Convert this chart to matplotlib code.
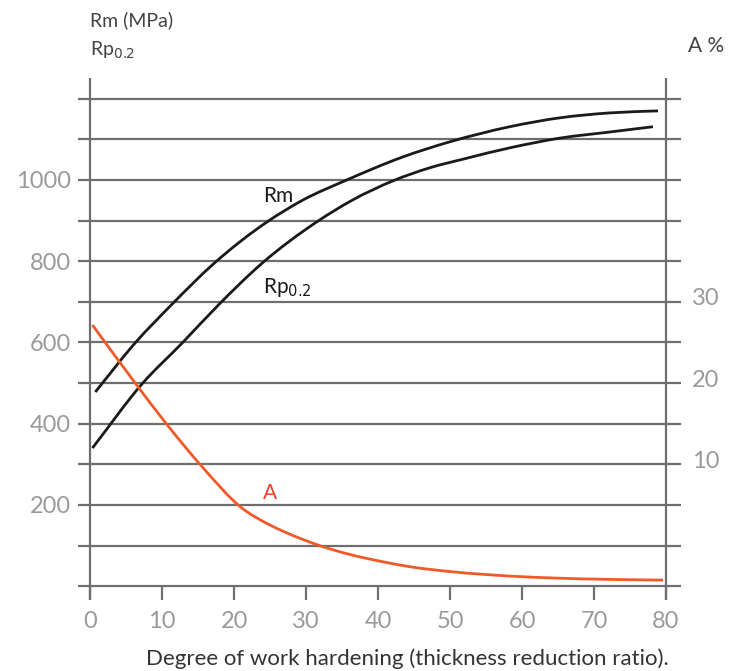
import matplotlib
matplotlib.use("Agg")
import matplotlib.pyplot as plt
import matplotlib.transforms as mtransforms
from matplotlib.path import Path
from matplotlib.patches import PathPatch

plt.rcParams["font.family"] = ["Lato", "DejaVu Sans"]

# ── data ──────────────────────────────────────────────────────
RM_X = [0.7, 6.25, 11.25, 17.1, 24.6, 29.6, 35.4, 43.5, 50.0, 58.3, 65.3, 72.2, 78.9]
RM_Y = [478, 599, 692, 793, 897, 951, 998, 1057, 1094, 1131, 1153, 1165, 1170]

RP_X = [0.3, 7.3, 12.8, 17.8, 23.75, 31.5, 36.5, 42.1, 47.2, 52.0, 58.3, 65.3, 72.2, 78.2]
RP_Y = [340, 500, 599, 692, 793, 897, 951, 998, 1030, 1052, 1079, 1103, 1118, 1131]

A_X = [0.3, 6.25, 10.7, 15.6, 21.1, 24.6, 27.1, 31.7, 36.1, 40.7, 44.4, 50.0, 59.3, 68.5, 79.6]
A_Y = [27.15, 20.0, 14.85, 9.65, 4.6, 2.7, 1.65, 0.05, -1.1, -2.0, -2.6, -3.2, -3.8, -4.1, -4.25]

X_TICKS = [0, 10, 20, 30, 40, 50, 60, 70, 80]
LEFT_TICKS = [200, 400, 600, 800, 1000]
RIGHT_TICKS = [10, 20, 30]
GRID_MPA = list(range(0, 1300, 100))

GRID_C = "#6e6e6e"
TICK_C = "#9a9a9a"
TEXT_C = "#333333"
CURVE_C = "#1a1a1a"
A_C = "#f05a28"

YLIM = (-34, 1251)
XLIM = (-1.7, 82.1)


def mpa_to_pct(v):
    # right axis: 10 % per 200 MPa, 0 % at the 100 MPa line
    return (v - 100) / 20.0


def smooth_path(xs, ys):
    # Hermite segments through the read points (tangents = weighted neighbour slopes)
    n = len(xs)
    sl = [(ys[i + 1] - ys[i]) / (xs[i + 1] - xs[i]) for i in range(n - 1)]
    m = [sl[0]]
    for i in range(1, n - 1):
        h0, h1 = xs[i] - xs[i - 1], xs[i + 1] - xs[i]
        m.append((sl[i - 1] * h1 + sl[i] * h0) / (h0 + h1))
    m.append(sl[-1])
    verts = [(xs[0], ys[0])]
    codes = [Path.MOVETO]
    for i in range(n - 1):
        h = xs[i + 1] - xs[i]
        verts += [(xs[i] + h / 3, ys[i] + m[i] * h / 3),
                  (xs[i + 1] - h / 3, ys[i + 1] - m[i + 1] * h / 3),
                  (xs[i + 1], ys[i + 1])]
        codes += [Path.CURVE4] * 3
    return Path(verts, codes)


def draw_curve(axis, xs, ys, color):
    patch = PathPatch(smooth_path(xs, ys), facecolor="none", edgecolor=color,
                      lw=2.0, capstyle="butt", joinstyle="round", zorder=3)
    axis.add_patch(patch)


fig = plt.figure(figsize=(7.43, 6.71), dpi=100)
ax = fig.add_axes([0.105, 0.1058, 0.8116, 0.778])
ax.set_xlim(*XLIM)
ax.set_ylim(*YLIM)
for s in ax.spines.values():
    s.set_visible(False)

# grid + frame
for g in GRID_MPA:
    ax.axhline(g, color=GRID_C, lw=1.6, zorder=1)
ax.axvline(0, color=GRID_C, lw=1.6, zorder=1)
ax.axvline(80, color=GRID_C, lw=1.6, zorder=1)
ax.vlines(X_TICKS, YLIM[0], 0, color=GRID_C, lw=1.6, zorder=1)

# curves
draw_curve(ax, RM_X, RM_Y, CURVE_C)
draw_curve(ax, RP_X, RP_Y, CURVE_C)

ax2 = ax.twinx()
ax2.set_ylim(mpa_to_pct(YLIM[0]), mpa_to_pct(YLIM[1]))
for s in ax2.spines.values():
    s.set_visible(False)
draw_curve(ax2, A_X, A_Y, A_C)

# ticks
ax.set_xticks(X_TICKS)
ax.set_yticks(LEFT_TICKS)
ax.tick_params(axis="both", length=0, labelsize=17, labelcolor=TICK_C)
ax.tick_params(axis="x", pad=8)
ax.tick_params(axis="y", pad=5)
ax2.set_yticks(RIGHT_TICKS)
ax2.tick_params(axis="y", length=0, labelsize=17, labelcolor=TICK_C, pad=8)
shift = mtransforms.ScaledTranslation(0, 5 / 100, fig.dpi_scale_trans)
for lab in ax2.get_yticklabels():
    lab.set_transform(lab.get_transform() + shift)

# curve labels
ax.text(24.0, 960, "Rm", fontsize=15, color=CURVE_C, ha="left", va="center")
ax.text(24.0, 736, r"Rp$_{0.2}$", fontsize=15, color=CURVE_C, ha="left", va="center")
ax.text(24.0, 229, "A", fontsize=15, color="#e8412a", ha="left", va="center")

# axis titles
fig.text(90 / 743, 1 - 20 / 671, "Rm (MPa)", fontsize=14, color="#444444", va="center", ha="left")
fig.text(90 / 743, 1 - 50 / 671, r"Rp$_{0.2}$", fontsize=14, color="#444444", va="center", ha="left")
fig.text(688 / 743, 1 - 46 / 671, "A %", fontsize=15, color="#444444", va="center", ha="left")
fig.text(407 / 743, 1 - 659 / 671, "Degree of work hardening (thickness reduction ratio).",
         fontsize=16, color=TEXT_C, va="center", ha="center")

fig.savefig("out.png", dpi=100)
